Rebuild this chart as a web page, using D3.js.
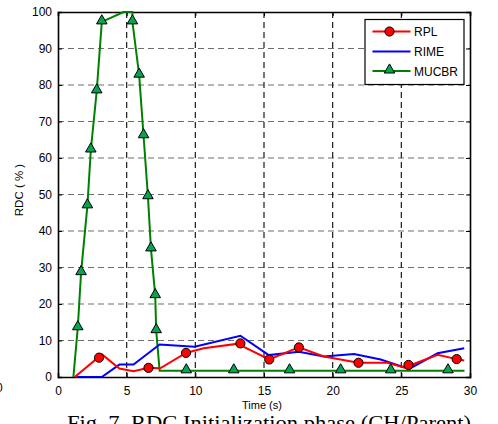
<!DOCTYPE html>
<html><head><meta charset="utf-8">
<script src="https://cdn.jsdelivr.net/npm/d3@7"></script>
<style>body{margin:0;background:#fff;}svg{display:block;}</style>
</head><body>
<svg id="c" width="498" height="424"></svg>
<script>
// ---- data ----
const xTicks = [0, 5, 10, 15, 20, 25, 30];
const yTicks = [0, 10, 20, 30, 40, 50, 60, 70, 80, 90, 100];

const rplLineX = [1.22, 3.2, 4.47, 5.5, 6.59, 7.44, 9.32, 10.6, 13.28, 13.5, 15.38, 17.54, 19.36, 21.88, 23.99, 25.2, 25.52, 27.64, 29.03, 29.58];
const rplLineY = [0, 6.2, 2.3, 1.6, 2.5, 2.4, 6.6, 7.9, 9.2, 8.3, 4.8, 8.1, 5.6, 3.9, 3.9, 2.6, 3.0, 6.1, 4.9, 4.5];
const rplMarkX = [2.99, 6.59, 9.32, 13.28, 15.38, 17.54, 21.88, 25.52, 29.03];
const rplMarkY = [5.3, 2.5, 6.6, 9.2, 4.8, 8.1, 3.9, 3.3, 4.9];

const rimeX = [1.22, 3.19, 4.47, 5.5, 7.4, 9.95, 13.28, 15.35, 17.54, 19.36, 21.55, 23.5, 25.57, 27.64, 29.58];
const rimeY = [0, 0, 3.4, 3.4, 8.9, 8.3, 11.3, 6.0, 6.9, 5.6, 6.3, 4.8, 2.2, 6.5, 7.9];

const mucLineX = [1.12, 1.44, 1.68, 2.14, 2.39, 2.82, 3.19, 4.77, 5.42, 5.42, 5.91, 6.23, 6.55, 6.77, 7.08, 7.15, 7.4, 29.6];
const mucLineY = [0, 13.5, 28.6, 46.9, 62.2, 78.4, 97.3, 100, 100, 97.3, 82.7, 66.1, 49.4, 35.1, 22.3, 12.7, 1.7, 1.7];
const mucMarkX = [1.44, 1.68, 2.14, 2.39, 2.82, 3.19, 5.42, 5.91, 6.23, 6.55, 6.77, 7.08, 7.15, 9.34, 12.8, 16.86, 20.58, 24.23, 28.4];
const mucMarkY = [13.5, 28.6, 46.9, 62.2, 78.4, 97.3, 97.3, 82.7, 66.1, 49.4, 35.1, 22.3, 12.7, 1.7, 1.7, 1.7, 1.7, 1.7, 1.7];

const legendNames = ["RPL", "RIME", "MUCBR"];
const xLabel = "Time (s)";
const yLabel = "RDC ( % )";
const caption = "Fig. 7.  RDC Initialization phase (CH/Parent)";

// ---- layout ----
const L = 58, R = 470, T = 12, B = 377;
const svg = d3.select("#c");
const x = d3.scaleLinear().domain([0, 30]).range([L, R]);
const y = d3.scaleLinear().domain([0, 100]).range([B, T]);
const font = "'Liberation Sans', Arial, sans-serif";

// grid
svg.append("g").selectAll("line").data(yTicks.slice(1, -1)).join("line")
  .attr("x1", L).attr("x2", R).attr("y1", d => y(d)).attr("y2", d => y(d))
  .attr("stroke", "#6e6e6e").attr("stroke-width", 1.2).attr("stroke-dasharray", "6,4");
svg.append("g").selectAll("line").data(xTicks.slice(1, -1)).join("line")
  .attr("x1", d => x(d)).attr("x2", d => x(d)).attr("y1", T).attr("y2", B)
  .attr("stroke", "#1a1a1a").attr("stroke-width", 1.2).attr("stroke-dasharray", "6,4");

// axes
svg.append("g").attr("transform", `translate(0,${B})`)
  .call(d3.axisBottom(x).tickValues(xTicks).tickSize(-4).tickPadding(9).tickFormat(d3.format("d")));
svg.append("g").attr("transform", `translate(${L},0)`)
  .call(d3.axisLeft(y).tickValues(yTicks).tickSize(-4).tickPadding(6).tickFormat(d3.format("d")));
svg.append("g").attr("transform", `translate(0,${T})`)
  .call(d3.axisTop(x).tickValues(xTicks).tickSize(-4).tickFormat(""));
svg.append("g").attr("transform", `translate(${R},0)`)
  .call(d3.axisRight(y).tickValues(yTicks).tickSize(-4).tickFormat(""));
svg.selectAll(".domain").attr("stroke", "#000").attr("stroke-width", 1.6);
svg.selectAll(".tick line").attr("stroke", "#000");
svg.selectAll(".tick text").attr("font-family", font).attr("font-size", 12).attr("fill", "#000");

// clip
svg.append("clipPath").attr("id", "clip").append("rect")
  .attr("x", L).attr("y", T - 1).attr("width", R - L).attr("height", B - T + 1);

const line = d3.line().x(d => x(d[0])).y(d => y(d[1]));
const plot = svg.append("g").attr("clip-path", "url(#clip)");
const zip = (a, b) => a.map((v, i) => [v, b[i]]);

plot.append("path").datum(zip(mucLineX, mucLineY)).attr("d", line)
  .attr("fill", "none").attr("stroke", "#008000").attr("stroke-width", 2);
plot.append("path").datum(zip(rimeX, rimeY)).attr("d", line)
  .attr("fill", "none").attr("stroke", "#0000ff").attr("stroke-width", 2);
plot.append("path").datum(zip(rplLineX, rplLineY)).attr("d", line)
  .attr("fill", "none").attr("stroke", "#ff0000").attr("stroke-width", 2);

const tri = d3.symbol().type(d3.symbolTriangle).size(48);
svg.append("g").selectAll("path").data(zip(mucMarkX, mucMarkY)).join("path")
  .attr("d", tri).attr("transform", d => `translate(${x(d[0])},${y(d[1]) - 1})`)
  .attr("fill", "#00a651").attr("stroke", "#000").attr("stroke-width", 1);
svg.append("g").selectAll("circle").data(zip(rplMarkX, rplMarkY)).join("circle")
  .attr("cx", d => x(d[0])).attr("cy", d => y(d[1])).attr("r", 4.6)
  .attr("fill", "#ff0000").attr("stroke", "#000").attr("stroke-width", 1);

// legend
const lg = svg.append("g");
lg.append("rect").attr("x", 365).attr("y", 19.5).attr("width", 99).attr("height", 65)
  .attr("fill", "#fff").attr("stroke", "#000").attr("stroke-width", 1.2);
const lcol = ["#ff0000", "#0000ff", "#008000"];
const ly = [31.5, 51.5, 71];
legendNames.forEach((n, i) => {
  lg.append("line").attr("x1", 372.5).attr("x2", 410.5).attr("y1", ly[i]).attr("y2", ly[i])
    .attr("stroke", lcol[i]).attr("stroke-width", 2);
  lg.append("text").attr("x", 414).attr("y", ly[i] + 4.5).text(n)
    .attr("font-family", font).attr("font-size", 12).attr("fill", "#000");
});
lg.append("circle").attr("cx", 389.5).attr("cy", ly[0]).attr("r", 4.6)
  .attr("fill", "#ff0000").attr("stroke", "#000");
lg.append("path").attr("d", tri).attr("transform", `translate(389.5,${ly[2] - 1})`)
  .attr("fill", "#00a651").attr("stroke", "#000");

// labels
svg.append("text").attr("x", 262).attr("y", 409).attr("text-anchor", "middle")
  .attr("font-family", font).attr("font-size", 11).text(xLabel);
svg.append("text").attr("transform", "translate(23,190) rotate(-90)").attr("text-anchor", "middle")
  .attr("font-family", font).attr("font-size", 11.5).text(yLabel);
svg.append("text").attr("x", -4).attr("y", 392)
  .attr("font-family", font).attr("font-size", 12).text("0");
svg.append("text").attr("x", 67).attr("y", 430).attr("textLength", 404).attr("lengthAdjust", "spacingAndGlyphs")
  .attr("font-family", "'Liberation Serif', 'Times New Roman', serif").attr("font-size", 20).text(caption);
</script>
</body></html>
